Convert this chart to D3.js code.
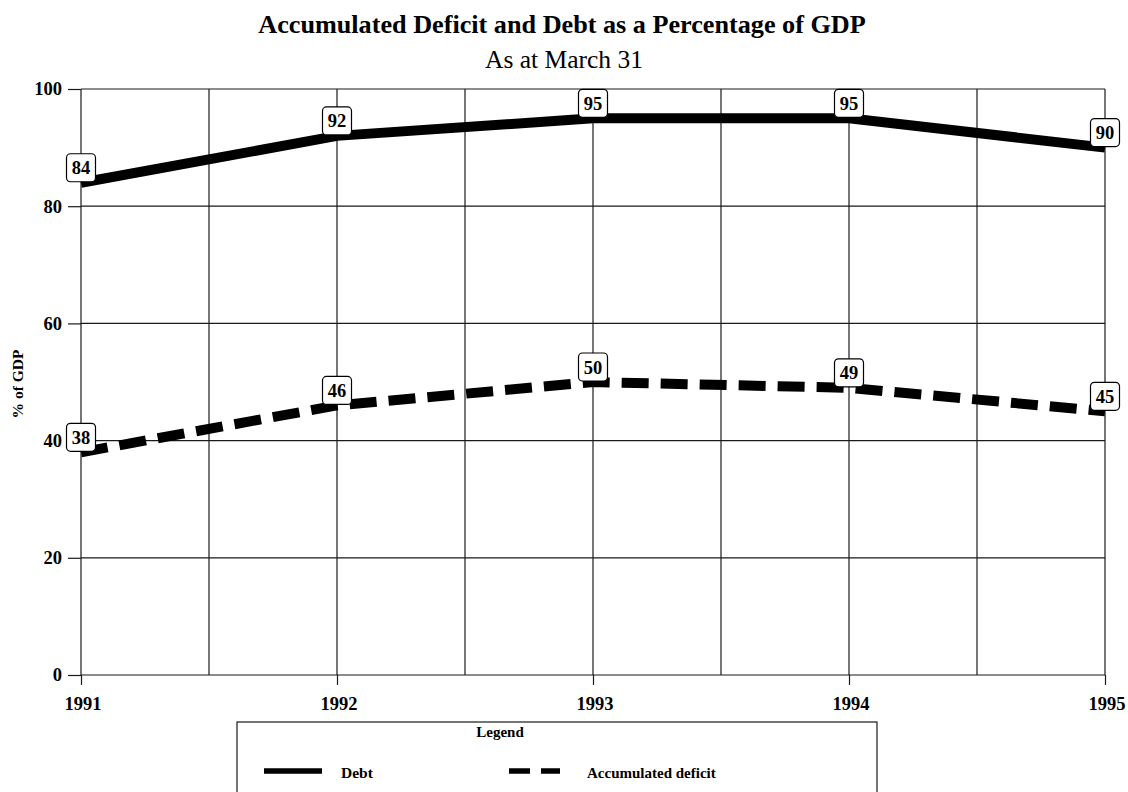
<!DOCTYPE html>
<html>
<head>
<meta charset="utf-8">
<script src="https://cdn.jsdelivr.net/npm/d3@7"></script>
<style>
  html, body { margin: 0; padding: 0; background: #fff; }
  svg { display: block; font-family: "Liberation Serif", "Times New Roman", serif; }
</style>
</head>
<body>
<svg id="chart" width="1128" height="792"></svg>
<script>
// Fiscal years (as at March 31)
const years = [1991, 1992, 1993, 1994, 1995];
// Debt, % of GDP
const debt = [84, 92, 95, 95, 90];
// Accumulated deficit, % of GDP
const deficit = [38, 46, 50, 49, 45];
// Axis ticks
const yTicks = [0, 20, 40, 60, 80, 100];
const xGrid = [1991, 1991.5, 1992, 1992.5, 1993, 1993.5, 1994, 1994.5, 1995];

const svg = d3.select("#chart");

const x = d3.scaleLinear().domain([1991, 1995]).range([81, 1105]);
const y = d3.scaleLinear().domain([0, 100]).range([675, 89]);

// Titles
svg.append("text")
  .attr("x", 562).attr("y", 33)
  .attr("text-anchor", "middle")
  .attr("font-weight", "bold").attr("font-size", 26.2)
  .text("Accumulated Deficit and Debt as a Percentage of GDP");
svg.append("text")
  .attr("x", 564).attr("y", 68)
  .attr("text-anchor", "middle")
  .attr("font-size", 25.5)
  .text("As at March 31");

// Grid
const grid = svg.append("g").attr("stroke", "#1a1a1a").attr("stroke-width", 1.2);
grid.selectAll("line.h").data(yTicks).join("line")
  .attr("class", "h")
  .attr("x1", x(1991)).attr("x2", x(1995))
  .attr("y1", d => y(d)).attr("y2", d => y(d));
grid.selectAll("line.v").data(xGrid).join("line")
  .attr("class", "v")
  .attr("x1", d => x(d)).attr("x2", d => x(d))
  .attr("y1", y(100)).attr("y2", y(0));

// Axes
const yAxis = svg.append("g")
  .attr("transform", `translate(${x(1991)},0)`)
  .call(d3.axisLeft(y).tickValues(yTicks).tickSize(13).tickPadding(6).tickFormat(d3.format("d")));
const xAxis = svg.append("g")
  .attr("transform", `translate(0,${y(0)})`)
  .call(d3.axisBottom(x).tickValues(years).tickSize(10).tickPadding(12).tickFormat(d3.format("d")));
[yAxis, xAxis].forEach(g => {
  g.select(".domain").remove();
  g.selectAll(".tick line").attr("stroke", "#1a1a1a").attr("stroke-width", 1.2);
  g.selectAll(".tick text")
    .attr("fill", "#000")
    .attr("font-family", "Liberation Serif, Times New Roman, serif")
    .attr("font-weight", "bold");
});
yAxis.selectAll(".tick text").attr("font-size", 18.5);
xAxis.selectAll(".tick text").attr("font-size", 18.5).attr("dx", 1.5);

// Y axis title
svg.append("text")
  .attr("transform", "translate(23,384) rotate(-90)")
  .attr("text-anchor", "middle")
  .attr("font-weight", "bold").attr("font-size", 15.5)
  .text("% of GDP");

// Series lines
const line = d3.line().x(d => x(d[0])).y(d => y(d[1]));
const debtPts = years.map((yr, i) => [yr, debt[i]]);
const defPts = years.map((yr, i) => [yr, deficit[i]]);

svg.append("path")
  .attr("d", line(debtPts))
  .attr("fill", "none").attr("stroke", "#000").attr("stroke-width", 10);
svg.append("path")
  .attr("d", line(defPts))
  .attr("fill", "none").attr("stroke", "#000").attr("stroke-width", 10)
  .attr("stroke-dasharray", "27 12");

// Value labels
function labels(pts) {
  const g = svg.append("g");
  const lab = g.selectAll("g").data(pts).join("g")
    .attr("transform", d => `translate(${x(d[0])},${y(d[1]) - 15})`);
  lab.append("rect")
    .attr("x", -14.5).attr("y", -14).attr("width", 29).attr("height", 28)
    .attr("rx", 4)
    .attr("fill", "#fff").attr("stroke", "#000").attr("stroke-width", 1.2);
  lab.append("text")
    .attr("text-anchor", "middle").attr("y", 6.5)
    .attr("font-weight", "bold").attr("font-size", 18.5)
    .text(d => d[1]);
}
labels(debtPts);
labels(defPts);

// Legend
const leg = svg.append("g");
leg.append("rect")
  .attr("x", 237).attr("y", 722).attr("width", 640).attr("height", 90)
  .attr("fill", "#fff").attr("stroke", "#1a1a1a").attr("stroke-width", 1.2);
leg.append("text")
  .attr("x", 500).attr("y", 737)
  .attr("text-anchor", "middle")
  .attr("font-weight", "bold").attr("font-size", 15)
  .text("Legend");
leg.append("line")
  .attr("x1", 264).attr("x2", 322).attr("y1", 771).attr("y2", 771)
  .attr("stroke", "#000").attr("stroke-width", 5.5);
leg.append("text")
  .attr("x", 341).attr("y", 778)
  .attr("font-weight", "bold").attr("font-size", 15.5)
  .text("Debt");
leg.append("line")
  .attr("x1", 509).attr("x2", 560).attr("y1", 771).attr("y2", 771)
  .attr("stroke", "#000").attr("stroke-width", 5.5)
  .attr("stroke-dasharray", "21 11");
leg.append("text")
  .attr("x", 587).attr("y", 778)
  .attr("font-weight", "bold").attr("font-size", 15)
  .text("Accumulated deficit");
</script>
</body>
</html>
